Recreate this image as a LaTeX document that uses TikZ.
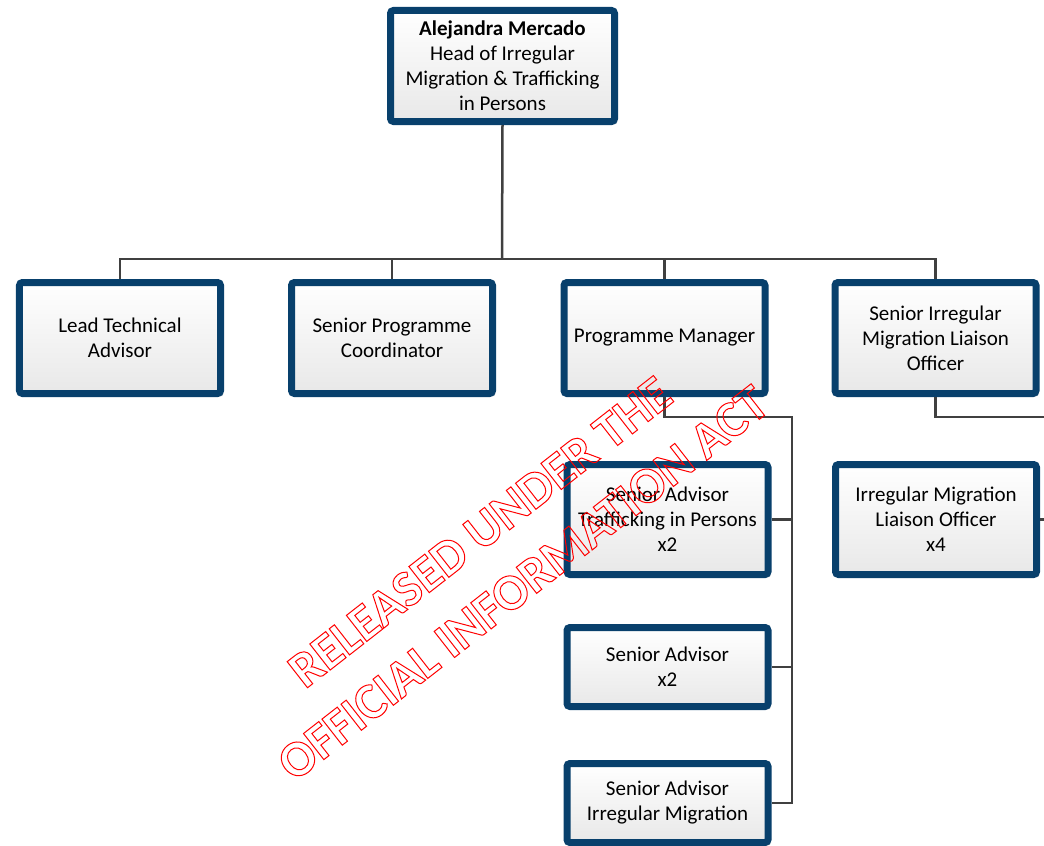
\documentclass[tikz,border=0pt]{standalone}
\usepackage{fontspec}
\setmainfont{Carlito}
\usetikzlibrary{shadows}
\definecolor{boxblue}{RGB}{8,64,108}
\definecolor{linegray}{RGB}{64,64,64}
\definecolor{wmred}{RGB}{255,0,0}
\newcommand{\outlinetext}[1]{\special{pdf:literal direct 1 Tr 1 w}#1\special{pdf:literal direct 0 Tr}}
\begin{document}
\begin{tikzpicture}[x=1bp,y=-1bp,
  orgbox/.style={draw=boxblue, line width=7bp, rounded corners=3bp,
    top color=white, bottom color=gray!18, align=center,
    font=\fontsize{21bp}{25bp}\selectfont, inner sep=0pt,
    minimum width=201bp, minimum height=111bp,
    drop shadow={shadow xshift=3bp, shadow yshift=-3bp, fill=black, opacity=0.12}},
  conn/.style={draw=linegray, line width=2.5bp},
  wm/.style={text=wmred, rotate=38, font=\fontsize{51bp}{62bp}\bfseries\selectfont, inner sep=0pt}]
\useasboundingbox (0,0) rectangle (1044,846);
% coordinates for connector buses
\coordinate (bar) at (502,259);
\coordinate (bus) at (792,417);
\coordinate (edgeA) at (1044,417);
\coordinate (edgeB) at (1044,519.5);
% nodes
\node[orgbox, minimum width=224bp] (top) at (502.5,66) {\textbf{Alejandra Mercado}\\Head of Irregular\\Migration \& Trafficking\\in Persons};
\node[orgbox] (lta) at (120,338) {Lead Technical\\Advisor};
\node[orgbox] (spc) at (392,338) {Senior Programme\\Coordinator};
\node[orgbox] (pm) at (664.5,338) {Programme Manager};
\node[orgbox] (sirm) at (935.5,338) {Senior Irregular\\Migration Liaison\\Officer};
\node[orgbox, minimum height=110bp] (tip) at (667.5,519.5) {Senior Advisor\\Trafficking in Persons\\x2};
\node[orgbox, minimum height=79bp] (sa) at (667.5,667) {Senior Advisor\\x2};
\node[orgbox, minimum height=79bp] (saim) at (667.5,803) {Senior Advisor\\Irregular Migration};
\node[orgbox, minimum height=110bp] (ilo) at (936,519.5) {Irregular Migration\\Liaison Officer\\x4};
% connectors
\draw[conn] (top.south) -- (bar);
\draw[conn] (lta.north) |- (bar) -| (sirm.north);
\draw[conn] (spc.north) -- (spc.north |- bar);
\draw[conn] (pm.north) -- (pm.north |- bar);
\draw[conn] (pm.south) |- (bus) -- (bus |- saim.east) -- (saim.east);
\draw[conn] (tip.east) -- (tip.east -| bus);
\draw[conn] (sa.east) -- (sa.east -| bus);
\draw[conn] (sirm.south) |- (edgeA);
\draw[conn] (ilo.east) -- (edgeB);
% watermark
\node[wm] (wm1) at (480,532) {\outlinetext{RELEASED UNDER THE}};
\node[wm] (wm2) at (523,583) {\outlinetext{OFFICIAL INFORMATION ACT}};
\end{tikzpicture}
\end{document}
